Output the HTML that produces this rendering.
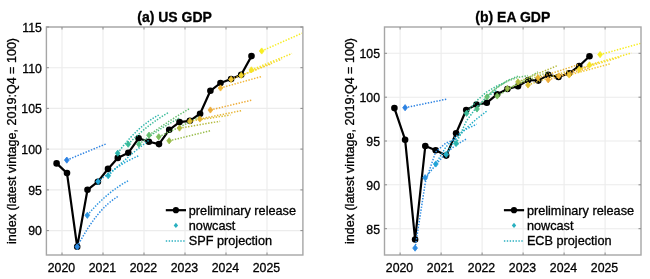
<!DOCTYPE html>
<html><head><meta charset="utf-8"><style>
html,body{margin:0;padding:0;background:#fff;width:650px;height:279px;overflow:hidden}
svg{display:block;font-family:'Liberation Sans', sans-serif;will-change:transform}
text{fill:#000;stroke:#000;stroke-width:0.3px}
</style></head><body>
<svg width="650" height="279" viewBox="0 0 650 279">
<rect width="650" height="279" fill="#fff"/>
<path d="M62.0 27.0V255.0 M103.0 27.0V255.0 M144.0 27.0V255.0 M185.0 27.0V255.0 M226.0 27.0V255.0 M267.0 27.0V255.0 M46.4 230.6H302.9 M46.4 189.9H302.9 M46.4 149.1H302.9 M46.4 108.4H302.9 M46.4 67.7H302.9 M46.4 27.0H302.9" stroke="#ececec" stroke-width="1.1" fill="none"/>
<polyline points="56.6,163.4 67.0,173.1 77.2,246.8 87.5,189.8 97.9,181.7 108.0,168.9 117.8,157.9 128.3,152.8 138.6,138.3 148.9,141.8 159.0,144.1 169.2,129.8 179.5,122.1 189.8,120.8 200.1,113.7 210.4,90.8 220.5,83.0 231.1,79.0 241.2,74.8 251.5,56.1" fill="none" stroke="#000" stroke-width="2.2" stroke-linejoin="round"/>
<circle cx="56.6" cy="163.4" r="3.3" fill="#000"/>
<circle cx="67.0" cy="173.1" r="3.3" fill="#000"/>
<circle cx="77.2" cy="246.8" r="3.3" fill="#000"/>
<circle cx="87.5" cy="189.8" r="3.3" fill="#000"/>
<circle cx="97.9" cy="181.7" r="3.3" fill="#000"/>
<circle cx="108.0" cy="168.9" r="3.3" fill="#000"/>
<circle cx="117.8" cy="157.9" r="3.3" fill="#000"/>
<circle cx="128.3" cy="152.8" r="3.3" fill="#000"/>
<circle cx="138.6" cy="138.3" r="3.3" fill="#000"/>
<circle cx="148.9" cy="141.8" r="3.3" fill="#000"/>
<circle cx="159.0" cy="144.1" r="3.3" fill="#000"/>
<circle cx="169.2" cy="129.8" r="3.3" fill="#000"/>
<circle cx="179.5" cy="122.1" r="3.3" fill="#000"/>
<circle cx="189.8" cy="120.8" r="3.3" fill="#000"/>
<circle cx="200.1" cy="113.7" r="3.3" fill="#000"/>
<circle cx="210.4" cy="90.8" r="3.3" fill="#000"/>
<circle cx="220.5" cy="83.0" r="3.3" fill="#000"/>
<circle cx="231.1" cy="79.0" r="3.3" fill="#000"/>
<circle cx="241.2" cy="74.8" r="3.3" fill="#000"/>
<circle cx="251.5" cy="56.1" r="3.3" fill="#000"/>
<path d="M66.8 160.1L107.0 143.5" fill="none" stroke="#2c82e2" stroke-width="1.5" stroke-dasharray="1.4 1.5"/>
<path d="M66.8 157.0L69.2 160.1L66.8 163.2L64.4 160.1Z" fill="#2c82e2" stroke="#2c82e2" stroke-width="0.8" stroke-linejoin="round"/>
<path d="M77.2 246.8Q97.3 208.4 118.1 196.4" fill="none" stroke="#2c8ae2" stroke-width="1.5" stroke-dasharray="1.4 1.5"/>
<path d="M77.2 243.7L79.6 246.8L77.2 249.9L74.8 246.8Z" fill="#2c8ae2" stroke="#2c8ae2" stroke-width="0.8" stroke-linejoin="round"/>
<path d="M87.3 215.3Q107.9 191.1 128.9 180.5" fill="none" stroke="#2c94e0" stroke-width="1.5" stroke-dasharray="1.4 1.5"/>
<path d="M87.3 212.2L89.7 215.3L87.3 218.4L84.9 215.3Z" fill="#2c94e0" stroke="#2c94e0" stroke-width="0.8" stroke-linejoin="round"/>
<path d="M98.1 181.6Q118.7 164.3 138.6 155.8" fill="none" stroke="#20a4d8" stroke-width="1.5" stroke-dasharray="1.4 1.5"/>
<path d="M98.1 178.5L100.5 181.6L98.1 184.7L95.7 181.6Z" fill="#20a4d8" stroke="#20a4d8" stroke-width="0.8" stroke-linejoin="round"/>
<path d="M108.2 175.7Q128.4 155.7 149.0 140.2" fill="none" stroke="#22aec4" stroke-width="1.5" stroke-dasharray="1.4 1.5"/>
<path d="M108.2 172.6L110.6 175.7L108.2 178.8L105.8 175.7Z" fill="#22aec4" stroke="#22aec4" stroke-width="0.8" stroke-linejoin="round"/>
<path d="M117.7 153.2Q137.8 125.9 158.7 115.1" fill="none" stroke="#2ab5ac" stroke-width="1.5" stroke-dasharray="1.4 1.5"/>
<path d="M117.7 150.1L120.1 153.2L117.7 156.3L115.3 153.2Z" fill="#2ab5ac" stroke="#2ab5ac" stroke-width="0.8" stroke-linejoin="round"/>
<path d="M128.2 144.2Q148.4 123.7 168.9 112.4" fill="none" stroke="#38ba98" stroke-width="1.5" stroke-dasharray="1.4 1.5"/>
<path d="M128.2 141.1L130.6 144.2L128.2 147.3L125.8 144.2Z" fill="#38ba98" stroke="#38ba98" stroke-width="0.8" stroke-linejoin="round"/>
<path d="M138.9 144.2Q158.8 128.9 179.5 118.0" fill="none" stroke="#4fbd84" stroke-width="1.5" stroke-dasharray="1.4 1.5"/>
<path d="M138.9 141.1L141.3 144.2L138.9 147.3L136.5 144.2Z" fill="#4fbd84" stroke="#4fbd84" stroke-width="0.8" stroke-linejoin="round"/>
<path d="M149.0 135.2Q169.6 120.2 189.8 108.5" fill="none" stroke="#64be70" stroke-width="1.5" stroke-dasharray="1.4 1.5"/>
<path d="M149.0 132.1L151.4 135.2L149.0 138.3L146.6 135.2Z" fill="#64be70" stroke="#64be70" stroke-width="0.8" stroke-linejoin="round"/>
<path d="M158.7 136.8Q179.7 127.2 199.9 116.8" fill="none" stroke="#7cbe5c" stroke-width="1.5" stroke-dasharray="1.4 1.5"/>
<path d="M158.7 133.7L161.1 136.8L158.7 139.9L156.3 136.8Z" fill="#7cbe5c" stroke="#7cbe5c" stroke-width="0.8" stroke-linejoin="round"/>
<path d="M169.2 140.8L210.9 130.6" fill="none" stroke="#98bc4a" stroke-width="1.5" stroke-dasharray="1.4 1.5"/>
<path d="M169.2 137.7L171.6 140.8L169.2 143.9L166.8 140.8Z" fill="#98bc4a" stroke="#98bc4a" stroke-width="0.8" stroke-linejoin="round"/>
<path d="M179.5 128.1L220.1 121.3" fill="none" stroke="#b4ba3c" stroke-width="1.5" stroke-dasharray="1.4 1.5"/>
<path d="M179.5 125.0L181.9 128.1L179.5 131.2L177.1 128.1Z" fill="#b4ba3c" stroke="#b4ba3c" stroke-width="0.8" stroke-linejoin="round"/>
<path d="M189.9 121.2L230.5 115.0" fill="none" stroke="#dcbe30" stroke-width="1.5" stroke-dasharray="1.4 1.5"/>
<path d="M189.9 118.1L192.3 121.2L189.9 124.3L187.5 121.2Z" fill="#dcbe30" stroke="#dcbe30" stroke-width="0.8" stroke-linejoin="round"/>
<path d="M199.9 119.0L241.5 110.6" fill="none" stroke="#e6b432" stroke-width="1.5" stroke-dasharray="1.4 1.5"/>
<path d="M199.9 115.9L202.3 119.0L199.9 122.1L197.5 119.0Z" fill="#e6b432" stroke="#e6b432" stroke-width="0.8" stroke-linejoin="round"/>
<path d="M210.4 110.0L251.8 100.1" fill="none" stroke="#eeac3a" stroke-width="1.5" stroke-dasharray="1.4 1.5"/>
<path d="M210.4 106.9L212.8 110.0L210.4 113.1L208.0 110.0Z" fill="#eeac3a" stroke="#eeac3a" stroke-width="0.8" stroke-linejoin="round"/>
<path d="M220.5 88.0L262.2 76.3" fill="none" stroke="#f2b83a" stroke-width="1.5" stroke-dasharray="1.4 1.5"/>
<path d="M220.5 84.9L222.9 88.0L220.5 91.1L218.1 88.0Z" fill="#f2b83a" stroke="#f2b83a" stroke-width="0.8" stroke-linejoin="round"/>
<path d="M231.1 79.4L272.0 63.5" fill="none" stroke="#f3c832" stroke-width="1.5" stroke-dasharray="1.4 1.5"/>
<path d="M231.1 76.3L233.5 79.4L231.1 82.5L228.7 79.4Z" fill="#f3c832" stroke="#f3c832" stroke-width="0.8" stroke-linejoin="round"/>
<path d="M241.2 75.4L282.0 59.0" fill="none" stroke="#f5d82c" stroke-width="1.5" stroke-dasharray="1.4 1.5"/>
<path d="M241.2 72.3L243.6 75.4L241.2 78.5L238.8 75.4Z" fill="#f5d82c" stroke="#f5d82c" stroke-width="0.8" stroke-linejoin="round"/>
<path d="M251.4 69.9L292.0 53.5" fill="none" stroke="#f6e526" stroke-width="1.5" stroke-dasharray="1.4 1.5"/>
<path d="M251.4 66.8L253.8 69.9L251.4 73.0L249.0 69.9Z" fill="#f6e526" stroke="#f6e526" stroke-width="0.8" stroke-linejoin="round"/>
<path d="M261.7 51.0L302.0 33.2" fill="none" stroke="#f7ee22" stroke-width="1.5" stroke-dasharray="1.4 1.5"/>
<path d="M261.7 47.9L264.1 51.0L261.7 54.1L259.3 51.0Z" fill="#f7ee22" stroke="#f7ee22" stroke-width="0.8" stroke-linejoin="round"/>
<rect x="46.4" y="27.0" width="256.5" height="228.0" fill="none" stroke="#a6a6a6" stroke-width="1.4"/>
<path d="M62.0 27.0v2.5M62.0 255.0v-2.5 M103.0 27.0v2.5M103.0 255.0v-2.5 M144.0 27.0v2.5M144.0 255.0v-2.5 M185.0 27.0v2.5M185.0 255.0v-2.5 M226.0 27.0v2.5M226.0 255.0v-2.5 M267.0 27.0v2.5M267.0 255.0v-2.5 M46.4 230.6h2.5M302.9 230.6h-2.5 M46.4 189.9h2.5M302.9 189.9h-2.5 M46.4 149.1h2.5M302.9 149.1h-2.5 M46.4 108.4h2.5M302.9 108.4h-2.5 M46.4 67.7h2.5M302.9 67.7h-2.5 M46.4 27.0h2.5M302.9 27.0h-2.5" stroke="#8c8c8c" stroke-width="1" fill="none"/>
<text x="61.4" y="272" font-size="12.3" text-anchor="middle">2020</text>
<text x="102.4" y="272" font-size="12.3" text-anchor="middle">2021</text>
<text x="143.4" y="272" font-size="12.3" text-anchor="middle">2022</text>
<text x="184.4" y="272" font-size="12.3" text-anchor="middle">2023</text>
<text x="225.4" y="272" font-size="12.3" text-anchor="middle">2024</text>
<text x="266.4" y="272" font-size="12.3" text-anchor="middle">2025</text>
<text x="41.9" y="235.4" font-size="12.3" text-anchor="end">90</text>
<text x="41.9" y="194.7" font-size="12.3" text-anchor="end">95</text>
<text x="41.9" y="154.0" font-size="12.3" text-anchor="end">100</text>
<text x="41.9" y="113.3" font-size="12.3" text-anchor="end">105</text>
<text x="41.9" y="72.6" font-size="12.3" text-anchor="end">110</text>
<text x="41.9" y="31.9" font-size="12.3" text-anchor="end">115</text>
<text transform="translate(16.3,141.0) rotate(-90)" font-size="12.55" text-anchor="middle">index (latest vintage, 2019:Q4 = 100)</text>
<text x="174.6" y="22" font-size="14" font-weight="bold" text-anchor="middle">(a) US GDP</text>
<path d="M165.8 210.2H186.0" stroke="#000" stroke-width="2.2"/>
<circle cx="175.9" cy="210.2" r="3.1" fill="#000"/>
<path d="M175.9 222.8L178.1 225.4L175.9 228.0L173.7 225.4Z" fill="#2ab0c0"/>
<path d="M165.8 241H186.0" stroke="#2ab0c0" stroke-width="1.5" stroke-dasharray="1.4 1.5"/>
<text x="188.8" y="214.8" font-size="12.7">preliminary release</text>
<text x="188.8" y="229.8" font-size="12.7">nowcast</text>
<text x="188.8" y="244.8" font-size="12.7">SPF projection</text>
<path d="M400.1 27.0V255.0 M441.1 27.0V255.0 M482.1 27.0V255.0 M523.1 27.0V255.0 M564.1 27.0V255.0 M605.1 27.0V255.0 M384.5 228.7H641.0 M384.5 184.8H641.0 M384.5 141.0H641.0 M384.5 97.2H641.0 M384.5 53.3H641.0" stroke="#ececec" stroke-width="1.1" fill="none"/>
<polyline points="394.4,108.1 405.1,139.7 415.1,239.5 425.3,146.0 435.7,150.2 446.2,155.6 456.1,133.2 466.2,110.0 476.5,104.6 486.8,102.8 497.2,94.2 507.4,89.0 518.0,86.3 528.2,80.0 538.3,80.6 548.2,74.9 558.5,77.0 569.2,73.3 579.2,66.0 589.5,56.2" fill="none" stroke="#000" stroke-width="2.2" stroke-linejoin="round"/>
<circle cx="394.4" cy="108.1" r="3.3" fill="#000"/>
<circle cx="405.1" cy="139.7" r="3.3" fill="#000"/>
<circle cx="415.1" cy="239.5" r="3.3" fill="#000"/>
<circle cx="425.3" cy="146.0" r="3.3" fill="#000"/>
<circle cx="435.7" cy="150.2" r="3.3" fill="#000"/>
<circle cx="446.2" cy="155.6" r="3.3" fill="#000"/>
<circle cx="456.1" cy="133.2" r="3.3" fill="#000"/>
<circle cx="466.2" cy="110.0" r="3.3" fill="#000"/>
<circle cx="476.5" cy="104.6" r="3.3" fill="#000"/>
<circle cx="486.8" cy="102.8" r="3.3" fill="#000"/>
<circle cx="497.2" cy="94.2" r="3.3" fill="#000"/>
<circle cx="507.4" cy="89.0" r="3.3" fill="#000"/>
<circle cx="518.0" cy="86.3" r="3.3" fill="#000"/>
<circle cx="528.2" cy="80.0" r="3.3" fill="#000"/>
<circle cx="538.3" cy="80.6" r="3.3" fill="#000"/>
<circle cx="548.2" cy="74.9" r="3.3" fill="#000"/>
<circle cx="558.5" cy="77.0" r="3.3" fill="#000"/>
<circle cx="569.2" cy="73.3" r="3.3" fill="#000"/>
<circle cx="579.2" cy="66.0" r="3.3" fill="#000"/>
<circle cx="589.5" cy="56.2" r="3.3" fill="#000"/>
<path d="M405.1 107.7L446.3 99.2" fill="none" stroke="#2c82e2" stroke-width="1.5" stroke-dasharray="1.4 1.5"/>
<path d="M405.1 104.6L407.5 107.7L405.1 110.8L402.7 107.7Z" fill="#2c82e2" stroke="#2c82e2" stroke-width="0.8" stroke-linejoin="round"/>
<path d="M415.1 248.1 L425.4 182.0 L435.6 152.0 L445.9 143.0 L456.1 139.0" fill="none" stroke="#2c8ae2" stroke-width="1.5" stroke-dasharray="1.4 1.5"/>
<path d="M415.1 245.0L417.5 248.1L415.1 251.2L412.7 248.1Z" fill="#2c8ae2" stroke="#2c8ae2" stroke-width="0.8" stroke-linejoin="round"/>
<path d="M425.4 177.7 L435.6 165.0 L445.9 153.0 L456.1 145.0 L466.4 139.0" fill="none" stroke="#2c94e0" stroke-width="1.5" stroke-dasharray="1.4 1.5"/>
<path d="M425.1 174.6L427.5 177.7L425.1 180.8L422.7 177.7Z" fill="#2c94e0" stroke="#2c94e0" stroke-width="0.8" stroke-linejoin="round"/>
<path d="M435.7 163.7 L445.9 147.0 L456.2 136.0 L466.4 129.0 L476.7 124.2" fill="none" stroke="#20a4d8" stroke-width="1.5" stroke-dasharray="1.4 1.5"/>
<path d="M435.8 160.9L438.2 164.0L435.8 167.1L433.4 164.0Z" fill="#20a4d8" stroke="#20a4d8" stroke-width="0.8" stroke-linejoin="round"/>
<path d="M445.9 154.0 L456.1 139.0 L466.4 128.0 L476.6 119.0 L486.9 111.0" fill="none" stroke="#22aec4" stroke-width="1.5" stroke-dasharray="1.4 1.5"/>
<path d="M446.2 151.3L448.6 154.4L446.2 157.5L443.8 154.4Z" fill="#22aec4" stroke="#22aec4" stroke-width="0.8" stroke-linejoin="round"/>
<path d="M456.1 143.8 L466.4 121.0 L476.6 107.0 L486.9 97.0 L497.1 90.0" fill="none" stroke="#2ab5ac" stroke-width="1.5" stroke-dasharray="1.4 1.5"/>
<path d="M456.2 140.3L458.6 143.4L456.2 146.5L453.8 143.4Z" fill="#2ab5ac" stroke="#2ab5ac" stroke-width="0.8" stroke-linejoin="round"/>
<path d="M466.1 113.3 L476.4 101.0 L486.6 92.0 L496.9 86.0 L507.1 81.5" fill="none" stroke="#38ba98" stroke-width="1.5" stroke-dasharray="1.4 1.5"/>
<path d="M466.6 110.2L469.0 113.3L466.6 116.4L464.2 113.3Z" fill="#38ba98" stroke="#38ba98" stroke-width="0.8" stroke-linejoin="round"/>
<path d="M476.9 109.0 L487.1 96.0 L497.4 87.0 L507.6 80.5 L517.9 76.1" fill="none" stroke="#4fbd84" stroke-width="1.5" stroke-dasharray="1.4 1.5"/>
<path d="M477.0 105.9L479.4 109.0L477.0 112.1L474.6 109.0Z" fill="#4fbd84" stroke="#4fbd84" stroke-width="0.8" stroke-linejoin="round"/>
<path d="M487.0 96.5 L497.2 87.5 L507.5 81.0 L517.8 77.5 L528.0 75.5" fill="none" stroke="#64be70" stroke-width="1.5" stroke-dasharray="1.4 1.5"/>
<path d="M487.0 93.8L489.4 96.9L487.0 100.0L484.6 96.9Z" fill="#64be70" stroke="#64be70" stroke-width="0.8" stroke-linejoin="round"/>
<path d="M497.2 96.0L538.0 72.0" fill="none" stroke="#7cbe5c" stroke-width="1.5" stroke-dasharray="1.4 1.5"/>
<path d="M497.2 92.9L499.6 96.0L497.2 99.1L494.8 96.0Z" fill="#7cbe5c" stroke="#7cbe5c" stroke-width="0.8" stroke-linejoin="round"/>
<path d="M507.4 88.5L548.3 72.0" fill="none" stroke="#98bc4a" stroke-width="1.5" stroke-dasharray="1.4 1.5"/>
<path d="M507.4 85.4L509.8 88.5L507.4 91.6L505.0 88.5Z" fill="#98bc4a" stroke="#98bc4a" stroke-width="0.8" stroke-linejoin="round"/>
<path d="M518.0 81.9L557.7 65.5" fill="none" stroke="#b4ba3c" stroke-width="1.5" stroke-dasharray="1.4 1.5"/>
<path d="M518.0 78.8L520.4 81.9L518.0 85.0L515.6 81.9Z" fill="#b4ba3c" stroke="#b4ba3c" stroke-width="0.8" stroke-linejoin="round"/>
<path d="M528.0 85.0L569.0 70.5" fill="none" stroke="#dcbe30" stroke-width="1.5" stroke-dasharray="1.4 1.5"/>
<path d="M528.0 81.9L530.4 85.0L528.0 88.1L525.6 85.0Z" fill="#dcbe30" stroke="#dcbe30" stroke-width="0.8" stroke-linejoin="round"/>
<path d="M538.0 77.8L579.1 64.4" fill="none" stroke="#e6b432" stroke-width="1.5" stroke-dasharray="1.4 1.5"/>
<path d="M538.0 74.7L540.4 77.8L538.0 80.9L535.6 77.8Z" fill="#e6b432" stroke="#e6b432" stroke-width="0.8" stroke-linejoin="round"/>
<path d="M548.2 79.8L589.0 68.0" fill="none" stroke="#eeac3a" stroke-width="1.5" stroke-dasharray="1.4 1.5"/>
<path d="M548.2 76.7L550.6 79.8L548.2 82.9L545.8 79.8Z" fill="#eeac3a" stroke="#eeac3a" stroke-width="0.8" stroke-linejoin="round"/>
<path d="M558.8 75.8L600.0 62.0" fill="none" stroke="#f2b83a" stroke-width="1.5" stroke-dasharray="1.4 1.5"/>
<path d="M558.8 72.7L561.2 75.8L558.8 78.9L556.4 75.8Z" fill="#f2b83a" stroke="#f2b83a" stroke-width="0.8" stroke-linejoin="round"/>
<path d="M569.2 75.0L610.6 63.7" fill="none" stroke="#f3c832" stroke-width="1.5" stroke-dasharray="1.4 1.5"/>
<path d="M569.2 71.9L571.6 75.0L569.2 78.1L566.8 75.0Z" fill="#f3c832" stroke="#f3c832" stroke-width="0.8" stroke-linejoin="round"/>
<path d="M579.2 69.3L620.5 57.0" fill="none" stroke="#f5d82c" stroke-width="1.5" stroke-dasharray="1.4 1.5"/>
<path d="M579.2 66.2L581.6 69.3L579.2 72.4L576.8 69.3Z" fill="#f5d82c" stroke="#f5d82c" stroke-width="0.8" stroke-linejoin="round"/>
<path d="M589.5 64.9L631.5 53.0" fill="none" stroke="#f6e526" stroke-width="1.5" stroke-dasharray="1.4 1.5"/>
<path d="M589.5 61.8L591.9 64.9L589.5 68.0L587.1 64.9Z" fill="#f6e526" stroke="#f6e526" stroke-width="0.8" stroke-linejoin="round"/>
<path d="M600.1 54.6L640.9 43.3" fill="none" stroke="#f7ee22" stroke-width="1.5" stroke-dasharray="1.4 1.5"/>
<path d="M600.1 51.5L602.5 54.6L600.1 57.7L597.7 54.6Z" fill="#f7ee22" stroke="#f7ee22" stroke-width="0.8" stroke-linejoin="round"/>
<rect x="384.5" y="27.0" width="256.5" height="228.0" fill="none" stroke="#a6a6a6" stroke-width="1.4"/>
<path d="M400.1 27.0v2.5M400.1 255.0v-2.5 M441.1 27.0v2.5M441.1 255.0v-2.5 M482.1 27.0v2.5M482.1 255.0v-2.5 M523.1 27.0v2.5M523.1 255.0v-2.5 M564.1 27.0v2.5M564.1 255.0v-2.5 M605.1 27.0v2.5M605.1 255.0v-2.5 M384.5 228.7h2.5M641.0 228.7h-2.5 M384.5 184.8h2.5M641.0 184.8h-2.5 M384.5 141.0h2.5M641.0 141.0h-2.5 M384.5 97.2h2.5M641.0 97.2h-2.5 M384.5 53.3h2.5M641.0 53.3h-2.5" stroke="#8c8c8c" stroke-width="1" fill="none"/>
<text x="399.5" y="272" font-size="12.3" text-anchor="middle">2020</text>
<text x="440.5" y="272" font-size="12.3" text-anchor="middle">2021</text>
<text x="481.5" y="272" font-size="12.3" text-anchor="middle">2022</text>
<text x="522.5" y="272" font-size="12.3" text-anchor="middle">2023</text>
<text x="563.5" y="272" font-size="12.3" text-anchor="middle">2024</text>
<text x="604.5" y="272" font-size="12.3" text-anchor="middle">2025</text>
<text x="380.0" y="233.5" font-size="12.3" text-anchor="end">85</text>
<text x="380.0" y="189.7" font-size="12.3" text-anchor="end">90</text>
<text x="380.0" y="145.8" font-size="12.3" text-anchor="end">95</text>
<text x="380.0" y="102.0" font-size="12.3" text-anchor="end">100</text>
<text x="380.0" y="58.2" font-size="12.3" text-anchor="end">105</text>
<text transform="translate(354.4,141.0) rotate(-90)" font-size="12.55" text-anchor="middle">index (latest vintage, 2019:Q4 = 100)</text>
<text x="512.8" y="22" font-size="14" font-weight="bold" text-anchor="middle">(b) EA GDP</text>
<path d="M503.90000000000003 210.2H524.1" stroke="#000" stroke-width="2.2"/>
<circle cx="514.0" cy="210.2" r="3.1" fill="#000"/>
<path d="M514.0 222.8L516.2 225.4L514.0 228.0L511.8 225.4Z" fill="#2ab0c0"/>
<path d="M503.90000000000003 241H524.1" stroke="#2ab0c0" stroke-width="1.5" stroke-dasharray="1.4 1.5"/>
<text x="526.9" y="214.8" font-size="12.7">preliminary release</text>
<text x="526.9" y="229.8" font-size="12.7">nowcast</text>
<text x="526.9" y="244.8" font-size="12.7">ECB projection</text>
</svg></body></html>
